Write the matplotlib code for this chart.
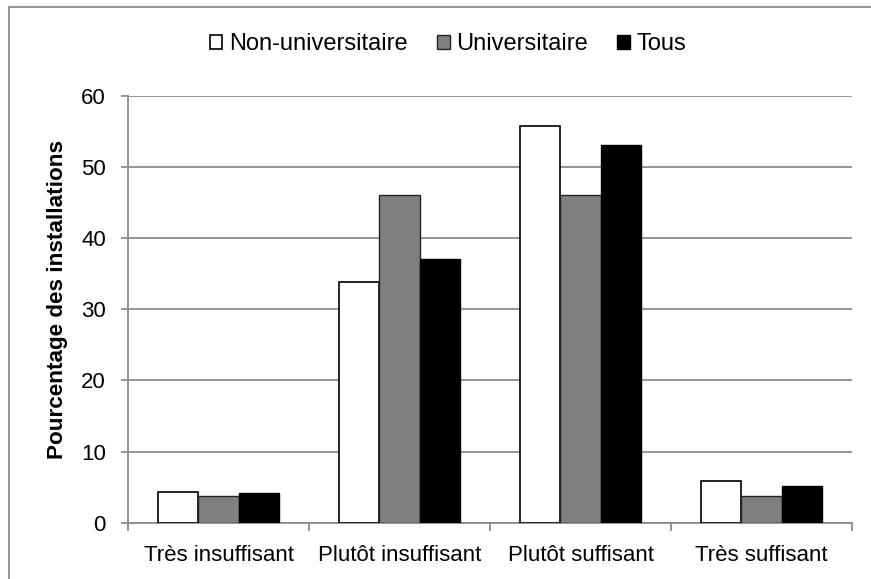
import numpy as np
import matplotlib
matplotlib.use("Agg")
import matplotlib.pyplot as plt
from matplotlib.patches import Rectangle

plt.rcParams['font.family'] = ['Liberation Sans', 'DejaVu Sans']

categories = ['Très insuffisant', 'Plutôt insuffisant', 'Plutôt suffisant', 'Très suffisant']
series_names = ['Non-universitaire', 'Universitaire', 'Tous']
non_univ = [4.3, 33.8, 55.8, 5.9]
univ = [3.8, 46.1, 46.1, 3.8]
tous = [4.2, 37.1, 53.1, 5.2]
yticks = [0, 10, 20, 30, 40, 50, 60]

grid_col = '#8c8c8c'

fig = plt.figure(figsize=(8.71, 5.79), dpi=100)
ax = fig.add_axes([128 / 871, 1 - 522.7 / 579, 724 / 871, 427 / 579])

x = np.arange(len(categories))
w = 0.221
ax.bar(x - w, non_univ, w, color='white', edgecolor='black', linewidth=1.2,
       label=series_names[0], zorder=3)
ax.bar(x, univ, w, color='#808080', edgecolor='#222222', linewidth=1.0,
       label=series_names[1], zorder=3)
ax.bar(x + w, tous, w, color='black', edgecolor='black', linewidth=1.0,
       label=series_names[2], zorder=3)

ax.set_xlim(-0.5, len(categories) - 0.5)
ax.set_ylim(0, 60)
ax.set_yticks(yticks)
ax.yaxis.grid(True, color=grid_col, linewidth=1.3, zorder=0)
ax.set_axisbelow(True)

for s in ['top', 'right']:
    ax.spines[s].set_visible(False)
for s in ['left', 'bottom']:
    ax.spines[s].set_color(grid_col)
    ax.spines[s].set_linewidth(1.3)

ax.set_xticks(x)
ax.set_xticklabels(categories, fontsize=16)
ax.set_xticks(np.arange(len(categories) + 1) - 0.5, minor=True)
ax.tick_params(axis='x', which='major', length=0, pad=16)
ax.tick_params(axis='x', which='minor', length=6, width=1.3, color=grid_col, direction='out')
ax.tick_params(axis='y', length=5, width=1.3, color=grid_col, pad=11, labelsize=16)

fig.text(58 / 871, 0.482, 'Pourcentage des installations', rotation=90,
         fontsize=16.2, fontweight='bold', ha='center', va='center')

fig.legend(loc='center', bbox_to_anchor=(448 / 871, 1 - 44.5 / 579), ncol=3,
           frameon=False, fontsize=17, handlelength=0.55, handleheight=0.55,
           handletextpad=0.3, columnspacing=1.2)

# outer frame (only top/left visible in the crop)
fig.patches.append(Rectangle((9 / 871, -0.1), 1.2, 1 - 7 / 579 + 0.1,
                             transform=fig.transFigure, fill=False,
                             edgecolor=grid_col, linewidth=1.3))

fig.savefig('out.png', dpi=100)
